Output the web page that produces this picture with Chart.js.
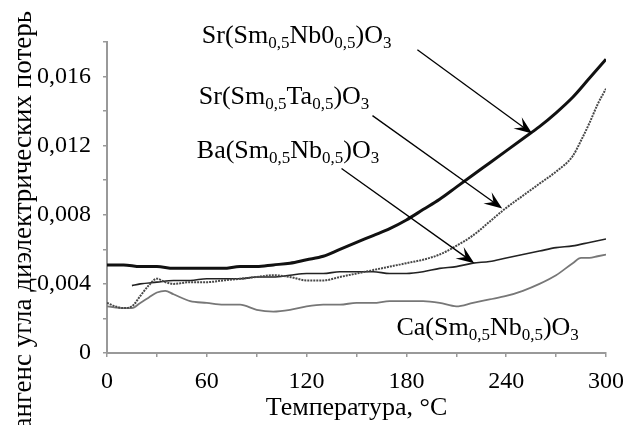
<!DOCTYPE html>
<html>
<head>
<meta charset="utf-8">
<script src="https://cdn.jsdelivr.net/npm/chart.js@4"></script>
<style>
  html, body { margin: 0; padding: 0; background: #fff; }
  #wrap { width: 623px; height: 425px; }
</style>
</head>
<body>
<div id="wrap"><canvas id="lossChart"></canvas></div>
<script>
// Data: temperature (°C) and tan delta
const srNbT = [0, 10, 20, 30, 40, 50, 60, 70, 80, 90, 100, 110, 120, 130, 140, 150, 160, 170, 180, 190, 200, 210, 220, 230, 240, 250, 260, 270, 280, 290, 300];
const srNb = [0.0051, 0.0051, 0.0050, 0.0050, 0.0049, 0.0049, 0.0049, 0.0049, 0.0050, 0.0050, 0.0051, 0.0052, 0.0054, 0.0056, 0.0060, 0.0064, 0.0068, 0.0072, 0.0077, 0.0083, 0.0089, 0.0096, 0.0103, 0.0110, 0.0117, 0.0124, 0.0131, 0.0139, 0.0148, 0.0159, 0.0170];

const srTaT = [0, 5, 10, 15, 20, 25, 30, 35, 40, 50, 60, 70, 80, 90, 100, 110, 120, 130, 140, 150, 160, 170, 180, 190, 200, 210, 220, 230, 240, 250, 260, 270, 280, 285, 290, 295, 300];
const srTa = [0.0029, 0.0027, 0.0026, 0.0027, 0.0033, 0.0039, 0.0043, 0.0041, 0.0040, 0.0041, 0.0041, 0.0042, 0.0043, 0.0044, 0.0045, 0.0044, 0.0042, 0.0042, 0.0044, 0.0046, 0.0048, 0.0050, 0.0052, 0.0054, 0.0057, 0.0062, 0.0068, 0.0076, 0.0084, 0.0091, 0.0098, 0.0105, 0.0114, 0.0123, 0.0133, 0.0144, 0.0153];

const baT = [15, 20, 30, 40, 50, 60, 70, 80, 90, 100, 110, 120, 130, 140, 150, 160, 170, 180, 190, 200, 210, 220, 230, 240, 250, 260, 270, 280, 290, 300];
const ba = [0.0039, 0.0040, 0.0041, 0.0042, 0.0042, 0.0043, 0.0043, 0.0043, 0.0044, 0.0044, 0.0045, 0.0046, 0.0046, 0.0047, 0.0047, 0.0047, 0.0046, 0.0046, 0.0047, 0.0049, 0.0050, 0.0052, 0.0053, 0.0055, 0.0057, 0.0059, 0.0061, 0.0062, 0.0064, 0.0066];

const caT = [0, 10, 15, 20, 25, 30, 35, 40, 50, 60, 70, 80, 90, 100, 110, 120, 130, 140, 150, 160, 170, 180, 190, 200, 210, 220, 230, 240, 250, 260, 270, 280, 285, 290, 295, 300];
const ca = [0.0027, 0.0026, 0.0026, 0.0029, 0.0032, 0.0035, 0.0036, 0.0034, 0.0030, 0.0029, 0.0028, 0.0028, 0.0025, 0.0024, 0.0025, 0.0027, 0.0028, 0.0028, 0.0029, 0.0029, 0.0030, 0.0030, 0.0030, 0.0029, 0.0027, 0.0029, 0.0031, 0.0033, 0.0036, 0.0040, 0.0045, 0.0052, 0.0055, 0.0055, 0.0056, 0.0057];

const xTitle = 'Температура, °C';
const yTitle = 'Тангенс угла диэлектрических потерь';

const serif = '"Liberation Serif", "Times New Roman", serif';

function pts(xs, ys) {
    return xs.map((x, i) => ({ x: x, y: ys[i] }));
}

// label pieces: [text, isSubscript]
const notes = [
    { text: [['Sr(Sm'], ['0,5', 1], ['Nb0'], ['0,5', 1], [')O'], ['3', 1]], at: [57, 0.01795], from: [186.6, 0.01755], to: [255.6, 0.0127] },
    { text: [['Sr(Sm'], ['0,5', 1], ['Ta'], ['0,5', 1], [')O'], ['3', 1]], at: [55.2, 0.01443], from: [159.6, 0.01374], to: [237.6, 0.00837] },
    { text: [['Ba(Sm'], ['0,5', 1], ['Nb'], ['0,5', 1], [')O'], ['3', 1]], at: [54, 0.01131], from: [141, 0.01068], to: [220.8, 0.0052] },
    { text: [['Ca(Sm'], ['0,5', 1], ['Nb'], ['0,5', 1], [')O'], ['3', 1]], at: [174, 0.00104] }
];

const notesPlugin = {
    id: 'notes',
    afterDraw(chart) {
        const ctx = chart.ctx;
        const xs = chart.scales.x, ys = chart.scales.y;
        ctx.save();
        ctx.fillStyle = '#000';
        ctx.strokeStyle = '#000';
        ctx.textBaseline = 'alphabetic';
        ctx.textAlign = 'left';
        notes.forEach(n => {
            let px = xs.getPixelForValue(n.at[0]);
            const py = ys.getPixelForValue(n.at[1]);
            n.text.forEach(p => {
                ctx.font = (p[1] ? '17px ' : '26px ') + serif;
                ctx.fillText(p[0], px, py + (p[1] ? 5 : 0));
                px += ctx.measureText(p[0]).width;
            });
            if (n.from) {
                const x1 = xs.getPixelForValue(n.from[0]), y1 = ys.getPixelForValue(n.from[1]);
                const x2 = xs.getPixelForValue(n.to[0]), y2 = ys.getPixelForValue(n.to[1]);
                const a = Math.atan2(y2 - y1, x2 - x1);
                ctx.lineWidth = 1.3;
                ctx.beginPath();
                ctx.moveTo(x1, y1);
                ctx.lineTo(x2 - 10 * Math.cos(a), y2 - 10 * Math.sin(a));
                ctx.stroke();
                // barbed head
                const len = 18, half = 7;
                const bx = x2 - len * Math.cos(a), by = y2 - len * Math.sin(a);
                const nx = x2 - len * 0.6 * Math.cos(a), ny = y2 - len * 0.6 * Math.sin(a);
                ctx.beginPath();
                ctx.moveTo(x2, y2);
                ctx.lineTo(bx + half * Math.sin(a), by - half * Math.cos(a));
                ctx.lineTo(nx, ny);
                ctx.lineTo(bx - half * Math.sin(a), by + half * Math.cos(a));
                ctx.closePath();
                ctx.fill();
            }
        });
        // rotated y title, runs off the bottom like the original
        ctx.font = '27px ' + serif;
        ctx.translate(31, 11);
        ctx.rotate(-Math.PI / 2);
        ctx.textAlign = 'right';
        ctx.fillText(yTitle, 0, 0);
        ctx.restore();
    }
};

new Chart(document.getElementById('lossChart'), {
    type: 'line',
    data: {
        datasets: [
            { label: 'Sr(Sm0,5Nb0,5)O3', data: pts(srNbT, srNb), borderColor: '#111', borderWidth: 3 },
            { label: 'Sr(Sm0,5Ta0,5)O3', data: pts(srTaT, srTa), borderColor: '#484848', borderWidth: 2, borderDash: [2, 1] },
            { label: 'Ba(Sm0,5Nb0,5)O3', data: pts(baT, ba), borderColor: '#222', borderWidth: 1.6 },
            { label: 'Ca(Sm0,5Nb0,5)O3', data: pts(caT, ca), borderColor: '#777', borderWidth: 1.8 }
        ]
    },
    options: {
        responsive: true,
        maintainAspectRatio: false,
        animation: false,
        elements: {
            point: { radius: 0 },
            line: { tension: 0.3, cubicInterpolationMode: 'monotone', fill: false }
        },
        layout: { padding: { top: 42, right: 17, left: 0, bottom: 0 } },
        plugins: {
            legend: { display: false },
            tooltip: { enabled: false }
        },
        scales: {
            x: {
                type: 'linear',
                min: 0,
                max: 300,
                afterFit: s => { s.height = 72; s.paddingRight = 0; s.paddingLeft = 0; },
                ticks: {
                    stepSize: 30,
                    autoSkip: false,
                    maxRotation: 0,
                    padding: 10,
                    color: '#000',
                    font: { family: serif, size: 24 },
                    callback: v => (v % 60 === 0 ? String(v) : '')
                },
                grid: { drawOnChartArea: false, drawTicks: true, tickLength: 4, color: '#999', lineWidth: 1.5 },
                border: { color: '#999', width: 2 },
                title: { display: true, text: xTitle, color: '#000', font: { family: serif, size: 26 }, padding: { top: 0, bottom: 1 } }
            },
            y: {
                min: 0,
                max: 0.018,
                afterFit: s => { s.width = 107; },
                ticks: {
                    stepSize: 0.002,
                    autoSkip: false,
                    padding: 12,
                    color: '#000',
                    font: { family: serif, size: 24 },
                    callback: v => {
                        const k = Math.round(v / 0.002);
                        if (k % 2 !== 0 || k > 8) return '';
                        return k === 0 ? '0' : v.toFixed(3).replace('.', ',');
                    }
                },
                grid: { drawOnChartArea: false, drawTicks: true, tickLength: 4, color: '#999', lineWidth: 1.5 },
                border: { color: '#999', width: 2 }
            }
        }
    },
    plugins: [notesPlugin]
});
</script>
</body>
</html>
